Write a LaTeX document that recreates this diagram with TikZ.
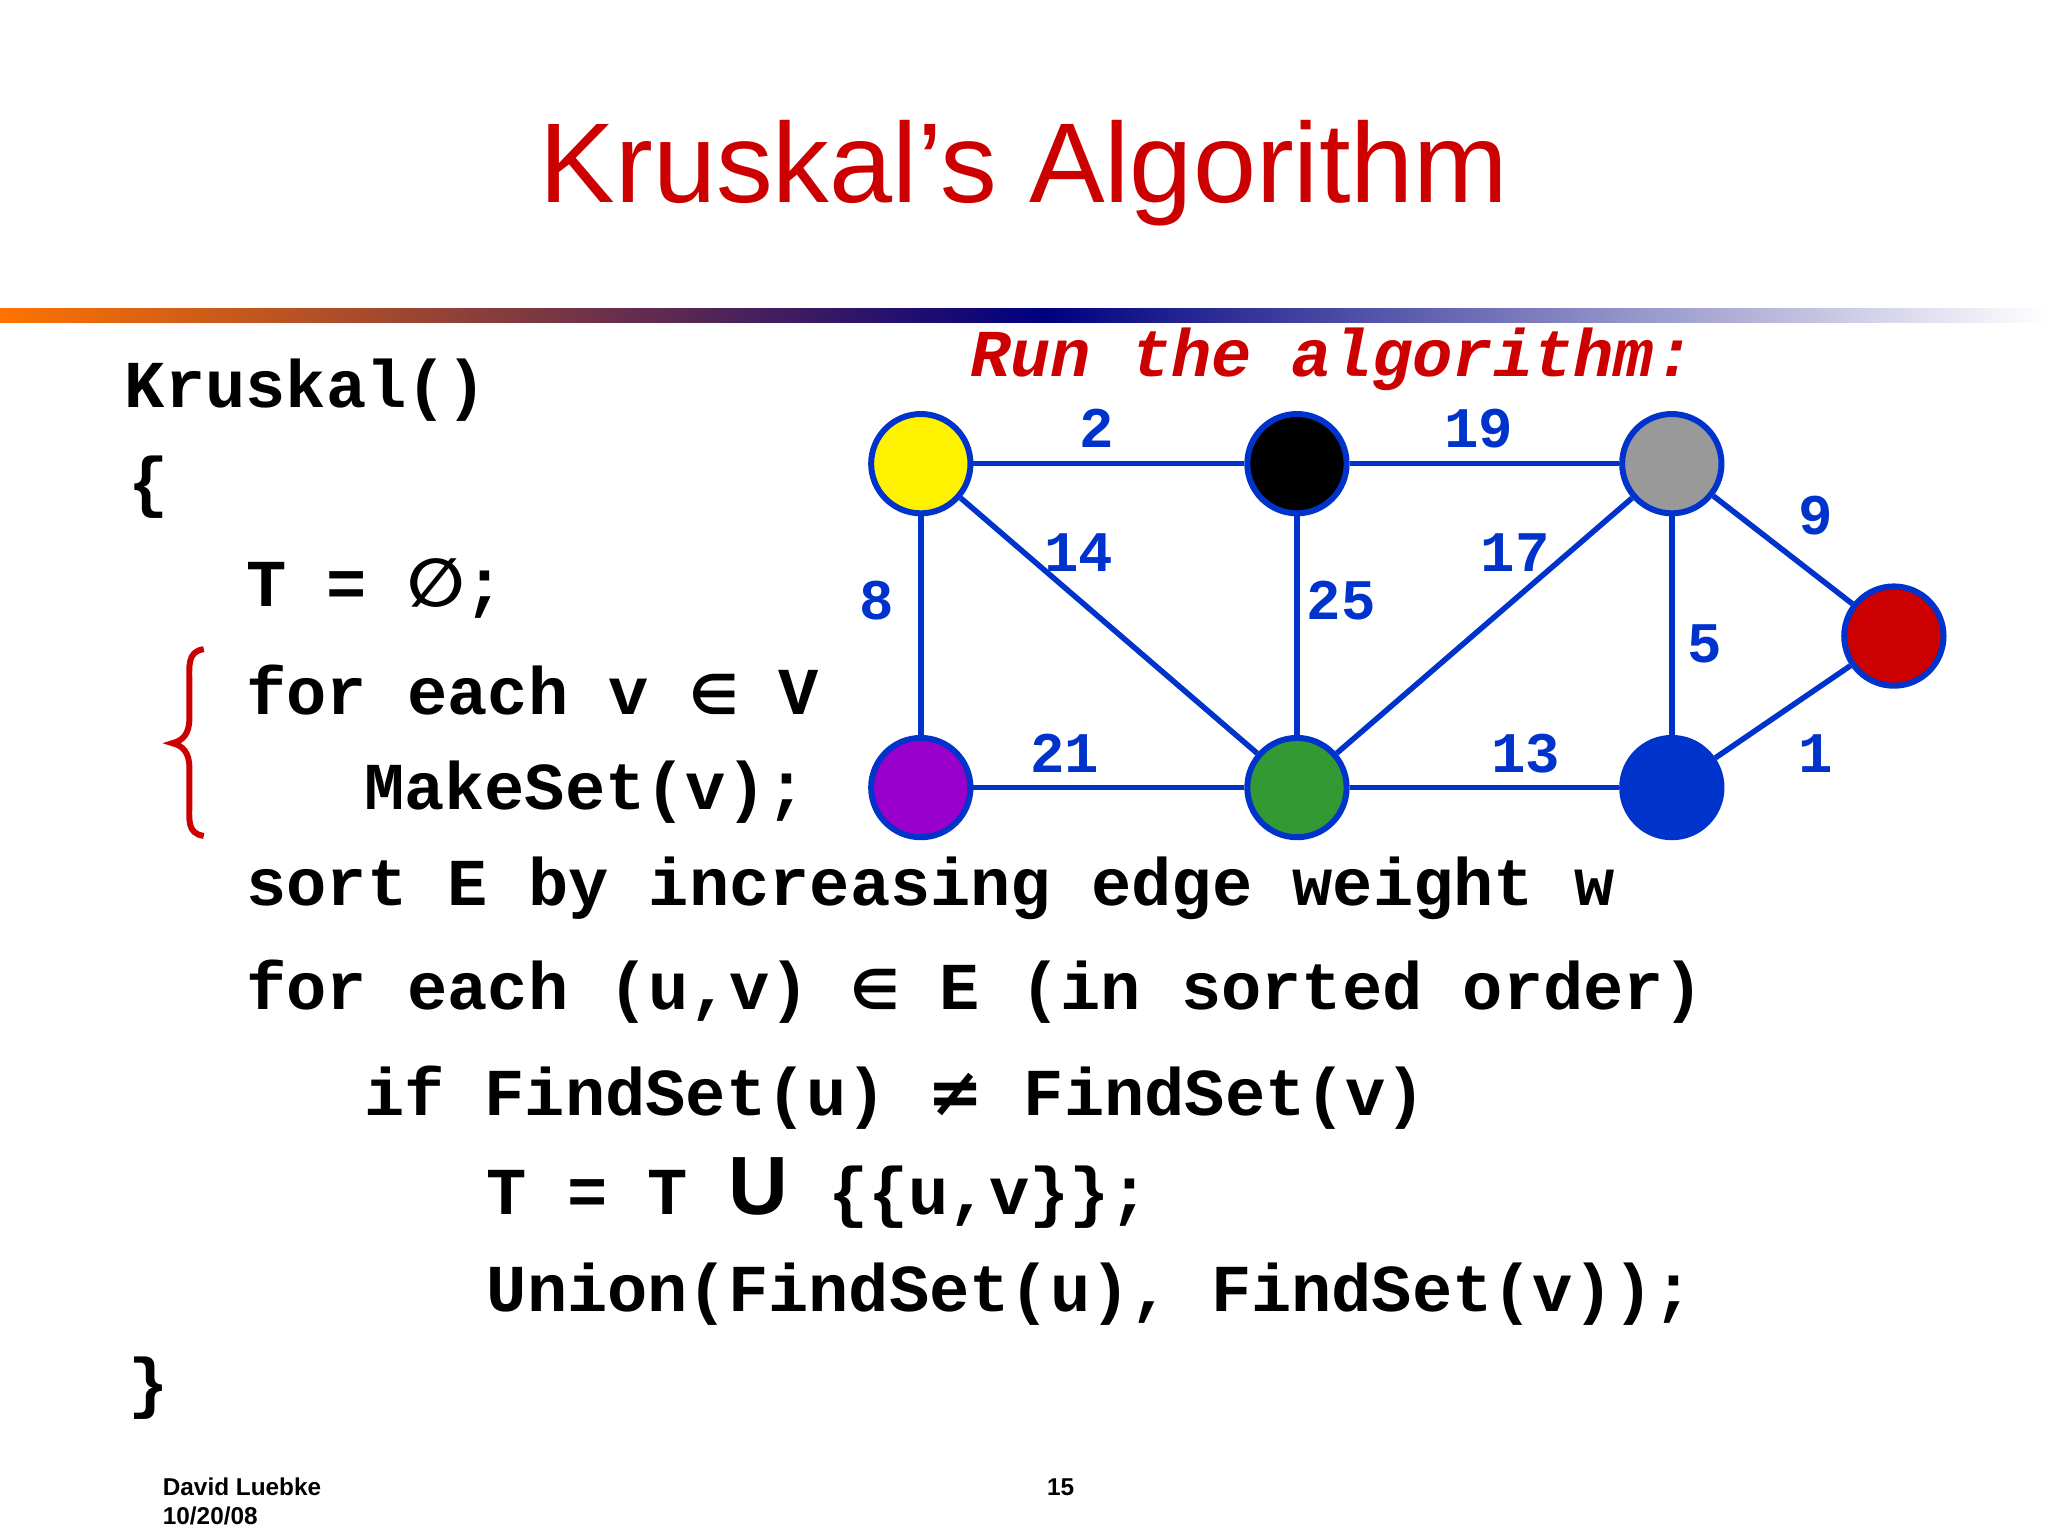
\documentclass[tikz,border=0pt]{standalone}
\usepackage{fontspec}
\setmainfont{Liberation Sans}
\setmonofont{Liberation Mono}
\newfontfamily\symf{DejaVu Sans}
\definecolor{eblue}{HTML}{0033CC}
\definecolor{tred}{HTML}{CC0000}
\begin{document}
\begin{tikzpicture}[x=0.01cm,y=-0.01cm,
  vert/.style={circle,draw=eblue,line width=1.3pt,minimum size=0.76cm,inner sep=0pt},
  edge/.style={eblue,line width=1.2pt},
  wl/.style={text=eblue,font=\fontsize{12.5pt}{14pt}\ttfamily\bfseries},
  code/.style={anchor=base west,inner sep=0pt,font=\fontsize{14.6pt}{17pt}\ttfamily\bfseries}]
\useasboundingbox (0,0) rectangle (1568,1176);
\fill[white] (0,0) rectangle (1568,1176);
\node[text=tred,font=\fontsize{24.7pt}{28pt}\selectfont,anchor=base] (title) at (784,155) {Kruskal’s Algorithm};
\shade[left color=orange!90!red,right color=blue!50!black] (0,236) rectangle (800,247);
\shade[left color=blue!50!black,right color=white] (800,236) rectangle (1568,247);
% graph
\node[vert,fill=yellow] (y) at (705,355) {};
\node[vert,fill=black] (k) at (993,355) {};
\node[vert,fill=gray!80] (g) at (1280,355) {};
\node[vert,fill=tred] (r) at (1450,487) {};
\node[vert,fill={rgb,255:red,153;green,0;blue,204}] (p) at (705,603) {};
\node[vert,fill={rgb,255:red,51;green,153;blue,51}] (gr) at (993,603) {};
\node[vert,fill=eblue] (b) at (1280,603) {};
\draw[edge] (y)--(k); \draw[edge] (k)--(g); \draw[edge] (g)--(r);
\draw[edge] (y)--(p); \draw[edge] (y)--(gr); \draw[edge] (k)--(gr);
\draw[edge] (g)--(gr); \draw[edge] (g)--(b); \draw[edge] (p)--(gr);
\draw[edge] (gr)--(b); \draw[edge] (b)--(r);
\node[wl] (l2) at (840,328) {2};
\node[wl] (l19) at (1132,328) {19};
\node[wl] (l9) at (1390,395) {9};
\node[wl] (l8) at (671,460) {8};
\node[wl] (l14) at (826,423) {14};
\node[wl] (l25) at (1027,460) {25};
\node[wl] (l17) at (1160,423) {17};
\node[wl] (l5) at (1305,493) {5};
\node[wl] (l21) at (815,577) {21};
\node[wl] (l13) at (1168,577) {13};
\node[wl] (l1) at (1390,577) {1};
\node[text=tred,font=\fontsize{14.6pt}{17pt}\ttfamily\bfseries\itshape] (run) at (1020,275) {Run the algorithm:};
% code
\node[code] (c1) at (95,312) {Kruskal()};
\node[code] (c2) at (98,386) {\{};
\node[code] (c3) at (188,464) {T = {\symf ∅};};
\node[code] (c4) at (188,547) {for each v {\symf\fontsize{12pt}{14pt}\selectfont ∈} V};
\node[code] (c5) at (278,620) {MakeSet(v);};
\node[code] (c6) at (188,693) {sort E by increasing edge weight w};
\node[code] (c7) at (188,773) {for each (u,v) {\symf\fontsize{12pt}{14pt}\selectfont ∈} E (in sorted order)};
\node[code] (c8) at (278,854) {if FindSet(u) {\symf ≠} FindSet(v)};
\node[code] (c9) at (372,930) {T = T {\rmfamily\fontsize{18pt}{20pt}\selectfont U} \{\{u,v\}\};};
\node[code] (c10) at (372,1004) {Union(FindSet(u), FindSet(v));};
\node[code] (c11) at (98,1076) {\}};
\draw[tred,line width=1.3pt] (156,497) .. controls (143,499) and (145,510) .. (145,525) -- (145,550) .. controls (145,562) and (140,567) .. (132,569) .. controls (140,571) and (145,576) .. (145,588) -- (145,613) .. controls (145,628) and (143,638) .. (156,640);
% footer
\node[anchor=base west,font=\fontsize{5.3pt}{6pt}\selectfont\bfseries,inner sep=0pt] (auth) at (124,1145) {David Luebke};
\node[anchor=base west,font=\fontsize{5.3pt}{6pt}\selectfont\bfseries,inner sep=0pt] (date) at (124,1167) {10/20/08};
\node[anchor=base,font=\fontsize{5.3pt}{6pt}\selectfont\bfseries,inner sep=0pt] (pg) at (812,1145) {15};
\end{tikzpicture}
\end{document}
